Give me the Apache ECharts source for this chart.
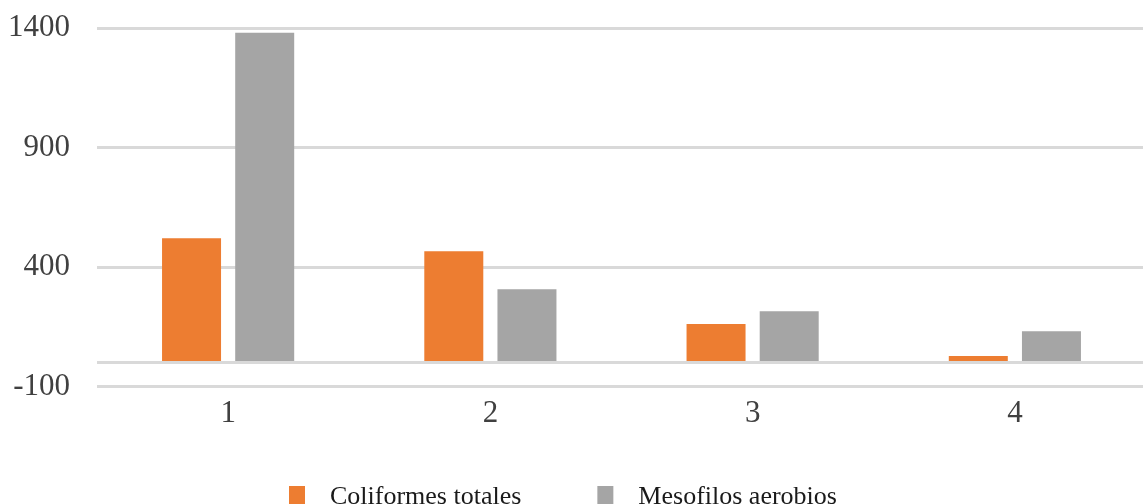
<!DOCTYPE html>
<html>
<head>
<meta charset="utf-8">
<script src="https://cdn.jsdelivr.net/npm/echarts@6/dist/echarts.min.js"></script>
<style>
  html, body { margin: 0; padding: 0; background: #fff; }
  #chart { width: 1143px; height: 504px; }
</style>
</head>
<body>
<div id="chart"></div>
<script>
// Sample groups along the x axis
const categories = ['1', '2', '3', '4'];
// Counts per sample
const coliformesTotales = [520, 466, 161, 28];
const mesofilosAerobios = [1380, 307, 215, 131];
// Value axis range and step
const yMin = -100;
const yMax = 1400;
const yStep = 500;

const gridColor = '#d9d9d9';
const serif = '"Liberation Serif", "DejaVu Serif", serif';

const chart = echarts.init(document.getElementById('chart'), null, { renderer: 'canvas' });

chart.setOption({
  animation: false,
  backgroundColor: '#ffffff',
  grid: { left: 97, top: 28, width: 1049, height: 358.5, containLabel: false, outerBoundsMode: 'none' },
  legend: {
    left: 289,
    top: 483,
    padding: 0,
    icon: 'rect',
    itemWidth: 16,
    itemHeight: 22,
    itemGap: 76,
    textStyle: {
      fontFamily: serif, fontSize: 26, color: '#1a1a1a',
      lineHeight: 22, padding: [0, 0, 6, 20]
    },
    data: ['Coliformes totales', 'Mesofilos aerobios']
  },
  xAxis: {
    type: 'category',
    data: categories,
    axisLine: { show: false, onZero: false },
    axisTick: { show: false },
    axisLabel: { fontFamily: serif, fontSize: 31, color: '#404040', margin: 12 }
  },
  yAxis: {
    type: 'value',
    min: yMin,
    max: yMax,
    interval: yStep,
    axisLine: { show: false },
    axisTick: { show: false },
    axisLabel: {
      fontFamily: serif, fontSize: 31, color: '#404040', margin: 27,
      formatter: (v) => String(v)
    },
    splitLine: { lineStyle: { color: gridColor, width: 3 } }
  },
  series: [
    {
      name: 'Coliformes totales',
      type: 'bar',
      data: coliformesTotales,
      barWidth: 59,
      barGap: '24%',
      itemStyle: { color: '#ed7d31' },
      markLine: {
        silent: true,
        symbol: 'none',
        label: { show: false },
        lineStyle: { color: gridColor, width: 3, type: 'solid' },
        data: [{ yAxis: 0 }]
      },
      z: 3
    },
    {
      name: 'Mesofilos aerobios',
      type: 'bar',
      data: mesofilosAerobios,
      barWidth: 59,
      itemStyle: { color: '#a5a5a5' },
      z: 3
    }
  ]
});
</script>
</body>
</html>
